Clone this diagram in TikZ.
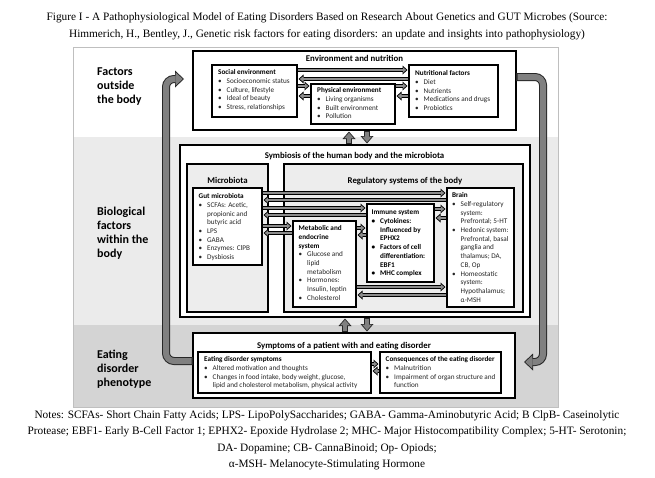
\documentclass[tikz,border=0pt]{standalone}
\usepackage{fontspec}
\setmainfont{Carlito}
\newfontfamily\timesfont{Liberation Serif}
\usetikzlibrary{arrows.meta}
\newcommand\myitem{\makebox[8.5pt][l]{\textbullet}}
\newcommand\mycont{\hspace*{8.5pt}}
\begin{document}
\begin{tikzpicture}[x=1pt,y=-1pt,
  box/.style={draw=black, line width=2.4pt, inner sep=0pt, outer sep=0pt, anchor=north west, fill=white},
  gbox/.style={box, fill=black!7},
  txt/.style={anchor=north west, inner sep=0pt, align=left, text=black!85, font=\fontsize{7.2}{8.7}\selectfont},
  ttl/.style={anchor=north, inner sep=0pt, font=\bfseries\fontsize{8.8}{10}\selectfont},
  side/.style={anchor=north west, inner sep=0pt, align=left, font=\bfseries\fontsize{12}{14}\selectfont},
  serif/.style={anchor=north, inner sep=0pt, align=center, font=\timesfont\fontsize{11.3}{16.6}\selectfont},
  sbar/.style={line width=3.2pt, draw=black, shorten >=1.5pt, shorten <=0.3pt,
    -{Triangle[length=5pt,width=9pt,line width=0pt]},
    postaction={draw=black!45, line width=1.3pt, shorten >=2.8pt, shorten <=1.3pt,
      -{Triangle[length=3pt,width=5pt,line width=0pt]}}},
  varr/.style={line width=6pt, draw=black!85, shorten >=1.5pt, shorten <=1.2pt,
    -{Triangle[length=7.5pt,width=13pt,line width=0pt]},
    postaction={draw=black!50, line width=4pt, shorten >=2.8pt, shorten <=2.2pt,
      -{Triangle[length=5.5pt,width=9.5pt,line width=0pt]}}},
  bigarr/.style={line width=8pt, draw=black!85, rounded corners=8pt, shorten >=9pt,
    -{Triangle[length=9pt,width=17pt,line width=0pt]},
    postaction={draw=black!50, line width=6pt, shorten >=10.3pt, shorten <=1.5pt,
      -{Triangle[length=7pt,width=13pt,line width=0pt]}}}
]
\useasboundingbox (0,0) rectangle (655,477);
% background bands
\fill[white] (73,47) rectangle (558,137);
\fill[black!8] (73,137) rectangle (558,325);
\fill[black!17] (73,325) rectangle (558,407);
\draw[black!25, line width=0.6pt] (73,47) rectangle (558,407);

% captions
\node[serif] (title) at (327,12.5) {Figure I - A Pathophysiological Model of Eating Disorders Based on Research About Genetics and GUT Microbes (Source:\\
Himmerich, H., Bentley, J., Genetic risk factors for eating disorders: an update and insights into pathophysiology)};
\node[serif] (notes) at (327,410) {Notes: SCFAs- Short Chain Fatty Acids; LPS- LipoPolySaccharides; GABA- Gamma-Aminobutyric Acid; B ClpB- Caseinolytic\\
Protease; EBF1- Early B-Cell Factor 1; EPHX2- Epoxide Hydrolase 2; MHC- Major Histocompatibility Complex; 5-HT- Serotonin;\\
DA- Dopamine; CB- CannaBinoid; Op- Opiods;\\
α-MSH- Melanocyte-Stimulating Hormone};

% side labels
\node[side] (lab1) at (97,67.4) {Factors\\outside\\the body};
\node[side] (lab2) at (97,206.4) {Biological\\factors\\within the\\body};
\node[side] (lab3) at (97,349.4) {Eating\\disorder\\phenotype};

% environment
\node[box, minimum width=323pt, minimum height=79pt] (env) at (193,51) {};
\node[ttl] (envT) at (354.5,54.8) {Environment and nutrition};
\node[box, line width=2.2pt, minimum width=85pt, minimum height=52pt] (social) at (212,65) {};
\node[txt] (socialT) at (218,69.5) {\textbf{\textcolor{black}{Social environment}}\\
\myitem Socioeconomic status\\ \myitem Culture, lifestyle\\ \myitem Ideal of beauty\\ \myitem Stress, relationships};
\node[box, line width=2.2pt, minimum width=84pt, minimum height=40pt] (phys) at (311,84) {};
\node[txt] (physT) at (317,87.5) {\textbf{\textcolor{black}{Physical environment}}\\
\myitem Living organisms\\ \myitem Built environment\\ \myitem Pollution};
\node[box, line width=2.2pt, minimum width=89pt, minimum height=52pt] (nutr) at (409,65) {};
\node[txt] (nutrT) at (415,70.5) {\textbf{\textcolor{black}{Nutritional factors}}\\
\myitem Diet\\ \myitem Nutrients\\ \myitem Medications and drugs\\ \myitem Probiotics};

% symbiosis
\node[box, minimum width=350pt, minimum height=172pt] (symb) at (180,145) {};
\node[ttl] (symbT) at (354.5,151.8) {Symbiosis of the human body and the microbiota};
\node[gbox, minimum width=81pt, minimum height=148pt] (micro) at (187,164) {};
\node[ttl] (microT) at (227.5,176.8) {Microbiota};
\node[gbox, minimum width=239pt, minimum height=148pt] (reg) at (284,164) {};
\node[ttl] (regT) at (405,176.8) {Regulatory systems of the body};
\node[box, line width=2.2pt, minimum width=69pt, minimum height=77pt] (gut) at (193,188) {};
\node[txt] (gutT) at (198.5,193.5) {\textbf{\textcolor{black}{Gut microbiota}}\\
\myitem SCFAs: Acetic,\\ \mycont propionic and\\ \mycont butyric acid\\ \myitem LPS\\ \myitem GABA\\ \myitem Enzymes: ClPB\\ \myitem Dysbiosis};
\node[box, line width=2.2pt, minimum width=63pt, minimum height=86pt] (metab) at (293,221) {};
\node[txt] (metabT) at (298.5,225.5) {\textbf{\textcolor{black}{Metabolic and}}\\ \textbf{\textcolor{black}{endocrine}}\\ \textbf{\textcolor{black}{system}}\\
\myitem Glucose and\\ \mycont lipid\\ \mycont metabolism\\ \myitem Hormones:\\ \mycont Insulin, leptin\\ \myitem Cholesterol};
\node[box, line width=2.2pt, minimum width=67pt, minimum height=78pt] (immune) at (367,204) {};
\node[txt, text=black, font=\bfseries\fontsize{7.2}{8.7}\selectfont] (immuneT) at (371.5,210) {Immune system\\
\myitem Cytokines:\\ \mycont Influenced by\\ \mycont EPHX2\\ \myitem Factors of cell\\ \mycont differentiation:\\ \mycont EBF1\\ \myitem MHC complex};
\node[box, line width=2.2pt, minimum width=67pt, minimum height=119pt] (brain) at (447,188) {};
\node[txt] (brainT) at (452,192.5) {\textbf{\textcolor{black}{Brain}}\\
\myitem Self-regulatory\\ \mycont system:\\ \mycont Prefrontal; 5-HT\\ \myitem Hedonic system:\\ \mycont Prefrontal, basal\\ \mycont ganglia and\\ \mycont thalamus; DA,\\ \mycont CB, Op\\ \myitem Homeostatic\\ \mycont system:\\ \mycont Hypothalamus;\\ \mycont α-MSH};

% symptoms
\node[box, minimum width=322pt, minimum height=65pt] (sympt) at (193,333) {};
\node[ttl] (symptT) at (344,341.8) {Symptoms of a patient with and eating disorder};
\node[box, line width=2.2pt, minimum width=173pt, minimum height=41pt] (edsym) at (198,352) {};
\node[txt] (edsymT) at (204,356.5) {\textbf{\textcolor{black}{Eating disorder symptoms}}\\
\myitem Altered motivation and thoughts\\ \myitem Changes in food intake, body weight, glucose,\\ \mycont lipid and cholesterol metabolism, physical activity};
\node[box, line width=2.2pt, minimum width=121pt, minimum height=41pt] (cons) at (380,352) {};
\node[txt] (consT) at (385.5,356.5) {\textbf{\textcolor{black}{Consequences of the eating disorder}}\\
\myitem Malnutrition\\ \myitem Impairment of organ structure and\\ \mycont function};

% arrows in environment box
\draw[sbar] (social.east |- 0,70) -- (nutr.west |- 0,70);
\draw[sbar] (nutr.west |- 0,79) -- (social.east |- 0,79);
\draw[sbar] (social.east |- 0,86) -- (phys.west |- 0,86);
\draw[sbar] (phys.west |- 0,96) -- (social.east |- 0,96);
\draw[sbar] (phys.east |- 0,86) -- (nutr.west |- 0,86);
\draw[sbar] (nutr.west |- 0,96) -- (phys.east |- 0,96);

% arrows in symbiosis box
\draw[sbar] (gut.east |- 0,193) -- (brain.west |- 0,193);
\draw[sbar] (brain.west |- 0,200) -- (gut.east |- 0,200);
\draw[sbar] (gut.east |- 0,208) -- (immune.west |- 0,208);
\draw[sbar] (immune.west |- 0,215) -- (gut.east |- 0,215);
\draw[sbar] (gut.east |- 0,226) -- (metab.west |- 0,226);
\draw[sbar] (metab.west |- 0,233) -- (gut.east |- 0,233);
\draw[sbar] (metab.east |- 0,228) -- (immune.west |- 0,228);
\draw[sbar] (immune.west |- 0,235) -- (metab.east |- 0,235);
\draw[sbar] (immune.east |- 0,209) -- (brain.west |- 0,209);
\draw[sbar] (brain.west |- 0,218) -- (immune.east |- 0,218);
\draw[sbar] (metab.east |- 0,287) -- (brain.west |- 0,287);
\draw[sbar] (brain.west |- 0,295) -- (metab.east |- 0,295);

% arrows in symptoms box
\draw[sbar] (edsym.east |- 0,364) -- (cons.west |- 0,364);
\draw[sbar] (cons.west |- 0,371) -- (edsym.east |- 0,371);

% vertical arrows between levels
\draw[varr] (symb.north -| 349,0) -- (env.south -| 349,0);
\draw[varr] (env.south -| 367,0) -- (symb.north -| 367,0);
\draw[varr] (sympt.north -| 345,0) -- (symb.south -| 345,0);
\draw[varr] (symb.south -| 367,0) -- (sympt.north -| 367,0);

% big feedback arrows
\draw[bigarr] (sympt.west |- 0,361) -- (166,361) -- (166,79) -- (env.west |- 0,79);
\draw[bigarr] (env.east |- 0,77) -- (543,77) -- (543,362) -- (sympt.east |- 0,362);
\end{tikzpicture}
\end{document}
